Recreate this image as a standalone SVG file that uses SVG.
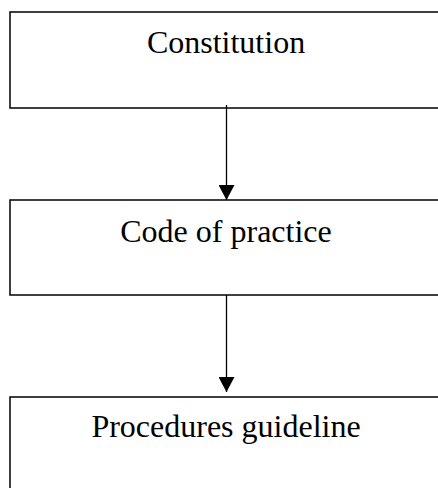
<svg xmlns="http://www.w3.org/2000/svg" width="438" height="488" viewBox="0 0 438 488">
<style>
.box{fill:#fff;stroke:#000;stroke-width:1.5}
.lbl{font-family:"Liberation Serif","Times New Roman",serif;font-size:32px;fill:#000;text-anchor:middle}
.con{stroke:#000;stroke-width:1.3;fill:none}
</style>
<defs>
<marker id="ah" markerWidth="16" markerHeight="16" refX="15" refY="8" orient="auto" markerUnits="userSpaceOnUse">
<path d="M0,0 L15,8 L0,16 Z" fill="#000"/>
</marker>
</defs>
<rect width="438" height="488" fill="#fff"/>
<g id="n1">
<rect class="box" x="10" y="12" width="440" height="96"/>
<text class="lbl" x="226" y="53">Constitution</text>
</g>
<g id="n2">
<rect class="box" x="10" y="200" width="440" height="95"/>
<text class="lbl" x="226" y="242">Code of practice</text>
</g>
<g id="n3">
<rect class="box" x="10" y="397" width="440" height="120"/>
<text class="lbl" x="226" y="437">Procedures guideline</text>
</g>
<g id="connectors">
<line class="con" x1="226.5" y1="105" x2="226.5" y2="200" marker-end="url(#ah)"/>
<line class="con" x1="226.5" y1="295" x2="226.5" y2="392" marker-end="url(#ah)"/>
</g>
</svg>
